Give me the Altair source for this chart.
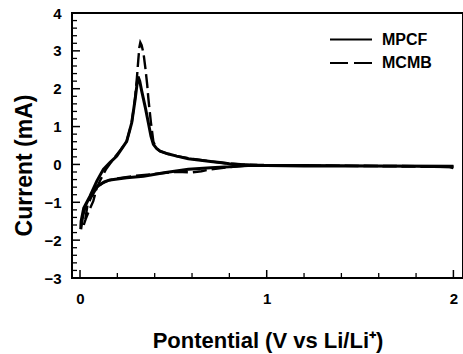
import altair as alt
import pandas as pd

series = ["MPCF", "MCMB"]

# MPCF loop (cathodic sweep 2.0 -> 0, then anodic sweep back to 2.0)
mpcf_v = [2.0, 1.98, 1.8, 1.5, 1.2, 1.0, 0.9, 0.85, 0.8, 0.7, 0.58, 0.45, 0.34, 0.25, 0.16, 0.13, 0.107, 0.09,
          0.071, 0.05, 0.03, 0.015, 0.004,
          0.006, 0.02, 0.054, 0.09, 0.125, 0.16, 0.197, 0.25, 0.277, 0.295, 0.305, 0.311, 0.32,
          0.33, 0.35, 0.366, 0.38, 0.393, 0.41, 0.429, 0.47, 0.518, 0.58, 0.7, 0.75, 0.8, 0.86, 0.95, 1.2, 1.6, 2.0]
mpcf_i = [-0.09, -0.06, -0.05, -0.04, -0.04, -0.03, -0.03, -0.04, -0.06, -0.09, -0.13, -0.22, -0.31, -0.35, -0.41, -0.46, -0.53, -0.6,
          -0.7, -0.87, -1.08, -1.35, -1.71,
          -1.5, -1.15, -0.83, -0.44, -0.13, 0.05, 0.22, 0.61, 1.1, 1.71, 2.1, 2.32, 2.2,
          1.95, 1.5, 1.1, 0.75, 0.53, 0.42, 0.35, 0.28, 0.22, 0.15, 0.08, 0.05, 0.02, 0.0, -0.02, -0.03, -0.04, -0.05]

# MCMB loop
mcmb_v = [2.0, 1.5, 1.0, 0.9, 0.8, 0.7, 0.65, 0.6, 0.55, 0.5, 0.4, 0.3, 0.2, 0.15, 0.12, 0.1, 0.08, 0.06, 0.04, 0.027, 0.02,
          0.03, 0.05, 0.071, 0.09, 0.11, 0.14, 0.18, 0.22, 0.25, 0.277, 0.295, 0.305, 0.312, 0.318, 0.323, 0.33,
          0.34, 0.35, 0.36, 0.366, 0.38, 0.393, 0.41, 0.429, 0.47, 0.518, 0.6, 0.7, 0.8, 0.9, 1.2, 2.0]
mcmb_i = [-0.07, -0.04, -0.03, -0.03, -0.07, -0.13, -0.18, -0.21, -0.2, -0.2, -0.25, -0.3, -0.37, -0.43, -0.5, -0.58, -0.7, -0.87, -1.08, -1.49, -1.6,
          -1.45, -1.2, -0.97, -0.62, -0.4, -0.12, 0.15, 0.4, 0.61, 1.1, 1.75, 2.3, 2.75, 3.1, 3.22, 3.15,
          2.94, 2.55, 2.1, 1.75, 1.1, 0.6, 0.42, 0.35, 0.28, 0.22, 0.15, 0.08, 0.02, -0.01, -0.03, -0.05]

y_major = [-3, -2, -1, 0, 1, 2, 3, 4]
y_minor = [-2.8, -2.6, -2.4, -2.2, -1.8, -1.6, -1.4, -1.2, -0.8, -0.6, -0.4, -0.2,
           0.2, 0.4, 0.6, 0.8, 1.2, 1.4, 1.6, 1.8, 2.2, 2.4, 2.6, 2.8, 3.2, 3.4, 3.6, 3.8]
x_major = [0.0, 1.0, 2.0]
x_minor = [0.2, 0.4, 0.6, 0.8, 1.2, 1.4, 1.6, 1.8]

x_title = "Pontential (V vs Li/Li\u207a)"
y_title = "Current (mA)"

W, H = 391, 265
FONT = "Liberation Sans"

rows = []
for k, (v, c) in enumerate(zip(mpcf_v, mpcf_i)):
    rows.append({"series": series[0], "v": v, "c": c, "idx": k})
for k, (v, c) in enumerate(zip(mcmb_v, mcmb_i)):
    rows.append({"series": series[1], "v": v, "c": c, "idx": k})
df = pd.DataFrame(rows)

xscale = alt.Scale(domain=[-0.0429, 2.0514], nice=False, zero=False)
yscale = alt.Scale(domain=[-3, 4], nice=False, zero=False)

xaxis = alt.Axis(values=x_major, title=x_title, labelExpr="format(datum.value, 'd')",
                 labelFont=FONT, labelFontWeight="bold",
                 labelFontSize=15, labelColor="black", labelPadding=13, ticks=False, tickSize=0,
                 labelOverlap=False, labelFlush=False, labelBound=False,
                 domain=False, grid=False, titleFont=FONT, titleFontWeight="bold", titleFontSize=22,
                 titleColor="black", titleX=W / 2, titleY=69, titleBaseline="alphabetic", titleAlign="center")
yaxis = alt.Axis(values=y_major, title=y_title, format="d", labelFont=FONT, labelFontWeight="bold",
                 labelFontSize=15, labelColor="black", labelPadding=11, ticks=False, tickSize=0,
                 labelOverlap=False, labelFlush=False, labelBound=False,
                 domain=False, grid=False, titleFont=FONT, titleFontWeight="bold", titleFontSize=23,
                 titleColor="black", titleX=-41, titleY=152, titleBaseline="alphabetic", titleAlign="center",
                 titleAngle=270)

base = alt.Chart(df)

mp = base.transform_filter(alt.datum.series == series[0]).mark_line(
    color="black", strokeWidth=3
).encode(
    x=alt.X("v:Q", scale=xscale, axis=xaxis),
    y=alt.Y("c:Q", scale=yscale, axis=yaxis),
    order="idx:Q",
)
mc = base.transform_filter(alt.datum.series == series[1]).mark_line(
    color="black", strokeWidth=2.4, strokeDash=[14, 5]
).encode(
    x=alt.X("v:Q", scale=xscale, axis=xaxis),
    y=alt.Y("c:Q", scale=yscale, axis=yaxis),
    order="idx:Q",
)

ymaj = alt.Chart(pd.DataFrame({"v": y_major})).mark_rule(color="black", strokeWidth=1.5).encode(
    y=alt.Y("v:Q", scale=yscale, axis=yaxis), x=alt.value(0), x2=alt.value(8))
ymin = alt.Chart(pd.DataFrame({"v": y_minor})).mark_rule(color="black", strokeWidth=1.3).encode(
    y=alt.Y("v:Q", scale=yscale, axis=yaxis), x=alt.value(0), x2=alt.value(5))
xmaj = alt.Chart(pd.DataFrame({"v": x_major})).mark_rule(color="black", strokeWidth=1.5).encode(
    x=alt.X("v:Q", scale=xscale, axis=xaxis), y=alt.value(H), y2=alt.value(H - 8))
xmin = alt.Chart(pd.DataFrame({"v": x_minor})).mark_rule(color="black", strokeWidth=1.3).encode(
    x=alt.X("v:Q", scale=xscale, axis=xaxis), y=alt.value(H), y2=alt.value(H - 5))

leg = pd.DataFrame({"series": series})
leg_solid = alt.Chart(leg.iloc[[0]]).mark_rule(color="black", strokeWidth=2).encode(
    x=alt.value(258), x2=alt.value(300), y=alt.value(26.5))
leg_dash = alt.Chart(leg.iloc[[1]]).mark_rule(color="black", strokeWidth=2, strokeDash=[18, 6]).encode(
    x=alt.value(258), x2=alt.value(300), y=alt.value(50))
leg_t1 = alt.Chart(leg.iloc[[0]]).mark_text(font=FONT, fontWeight="bold", fontSize=16, align="left",
                                            baseline="middle", color="black").encode(
    text="series:N", x=alt.value(310), y=alt.value(26.5))
leg_t2 = alt.Chart(leg.iloc[[1]]).mark_text(font=FONT, fontWeight="bold", fontSize=16, align="left",
                                            baseline="middle", color="black").encode(
    text="series:N", x=alt.value(310), y=alt.value(50))

chart = alt.layer(mp, mc, ymaj, ymin, xmaj, xmin, leg_solid, leg_dash, leg_t1, leg_t2).properties(
    width=W, height=H,
    autosize=alt.AutoSizeParams(type="none"),
    padding={"left": 72, "top": 13, "right": 0, "bottom": 76},
    background="white",
).configure_view(stroke="black", strokeWidth=2)

chart.save("out.html", embed_options={"renderer": "svg", "actions": False})
